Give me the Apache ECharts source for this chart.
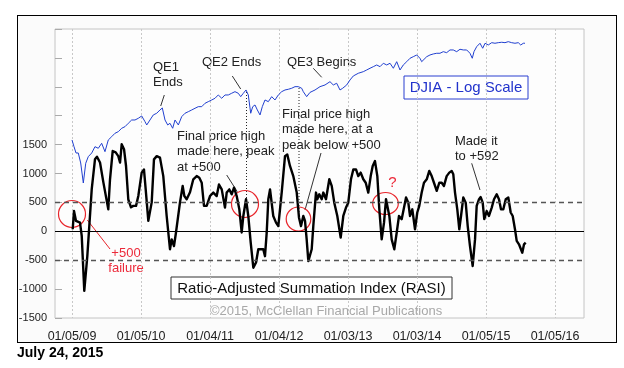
<!DOCTYPE html>
<html><head><meta charset="utf-8">
<script src="https://cdn.jsdelivr.net/npm/echarts@6/dist/echarts.min.js"></script>
<style>
html,body{margin:0;padding:0;background:#fff;}
#frame{position:absolute;left:17px;top:15px;width:598px;height:326px;border:1px solid #000;background:#fbfbfb;}
#chart{position:absolute;left:0;top:0;width:624px;height:368px;}
</style></head>
<body>
<div id="frame"></div>
<div id="chart"></div>
<script>
// ---- data ----
const yearTicks = [2009, 2010, 2011, 2012, 2013, 2014, 2015, 2016];
const xTickLabels = ['01/05/09','01/05/10','01/04/11','01/04/12','01/03/13','01/03/14','01/05/15','01/05/16'];
const rasiLabelMax = 1500;
const refLevels = [500, -500];
const zeroLevel = 0;

const rasiDates = [2009.010,2009.029,2009.058,2009.116,2009.141,2009.178,2009.222,2009.286,2009.333,2009.362,2009.406,2009.454,2009.526,2009.551,2009.590,2009.633,2009.671,2009.696,2009.720,2009.754,2009.783,2009.816,2009.855,2009.888,2009.928,2009.961,
2010.010,2010.043,2010.068,2010.106,2010.155,2010.188,2010.228,2010.275,2010.323,2010.372,2010.420,2010.445,2010.478,2010.507,2010.565,2010.604,2010.628,2010.662,2010.710,2010.758,2010.807,2010.845,2010.880,2010.913,2010.952,
2011.000,2011.048,2011.097,2011.130,2011.170,2011.217,2011.242,2011.280,2011.314,2011.348,2011.387,2011.425,2011.459,2011.483,2011.522,2011.555,2011.590,2011.628,2011.667,2011.700,2011.735,2011.772,2011.797,2011.822,2011.845,2011.870,2011.917,2011.957,2011.990,
2012.039,2012.087,2012.120,2012.159,2012.207,2012.257,2012.290,2012.319,2012.352,2012.377,2012.401,2012.425,2012.449,2012.474,2012.497,2012.536,2012.555,2012.584,2012.619,2012.642,2012.681,2012.729,2012.764,2012.801,2012.845,2012.894,2012.932,2012.971,
2013.004,2013.043,2013.077,2013.116,2013.149,2013.184,2013.222,2013.257,2013.294,2013.329,2013.358,2013.391,2013.425,2013.454,2013.488,2013.522,2013.551,2013.570,2013.599,2013.633,2013.671,2013.706,2013.739,2013.778,2013.812,2013.841,2013.874,2013.899,2013.932,2013.971,
2014.004,2014.033,2014.068,2014.101,2014.141,2014.178,2014.213,2014.246,2014.286,2014.323,2014.358,2014.391,2014.430,2014.468,2014.503,2014.526,2014.551,2014.584,2014.613,2014.638,2014.671,2014.706,2014.735,2014.768,2014.807,2014.841,2014.865,2014.899,2014.923,2014.952,2014.975,
2015.010,2015.043,2015.083,2015.116,2015.155,2015.188,2015.217,2015.251,2015.286,2015.323,2015.358,2015.387,2015.420,2015.445,2015.478,2015.503,2015.526,2015.551,2015.575];
const rasiValues = [35,350,180,150,-80,-1030,-430,730,1245,1290,1190,850,380,900,1390,1365,1300,1190,1505,1420,1130,550,415,440,440,610,
1015,1070,725,180,500,1245,1300,1275,955,265,-310,-140,-255,-20,500,785,610,555,675,900,955,925,840,440,440,
610,670,610,810,725,410,670,725,640,755,610,380,-20,265,555,265,-195,-630,-540,-310,-310,-310,-430,-20,555,725,265,150,90,
670,1300,1330,1130,955,670,235,90,265,180,-140,-515,-540,-310,90,670,555,640,555,670,555,900,785,495,265,-110,265,410,
495,900,1070,1070,955,1015,900,840,670,955,1130,1215,955,380,-140,150,555,555,265,-140,-310,-20,265,210,410,585,495,265,380,35,
325,440,670,840,900,1045,955,840,700,840,840,785,955,1015,1045,985,670,380,35,265,585,495,90,-255,-600,-140,440,555,592,495,210,
350,265,410,555,640,555,380,380,555,585,325,265,35,-165,-225,-195,-370,-225,-195];

const djiaDates = [2009.000,2009.029,2009.058,2009.091,2009.126,2009.164,2009.199,2009.236,2009.286,2009.333,2009.381,2009.430,2009.478,2009.526,2009.575,2009.623,2009.671,2009.720,2009.768,2009.816,2009.865,2009.913,2009.961,
2010.010,2010.058,2010.083,2010.130,2010.178,2010.228,2010.275,2010.309,2010.348,2010.387,2010.420,2010.459,2010.493,2010.541,2010.590,2010.638,2010.686,2010.735,2010.783,2010.830,2010.880,2010.928,2010.975,
2011.025,2011.072,2011.120,2011.170,2011.217,2011.265,2011.314,2011.362,2011.410,2011.445,2011.483,2011.522,2011.555,2011.590,2011.619,2011.652,2011.686,2011.725,2011.758,2011.797,2011.845,2011.894,2011.942,2011.990,
2012.039,2012.087,2012.135,2012.184,2012.232,2012.280,2012.329,2012.352,2012.401,2012.449,2012.522,2012.594,2012.667,2012.739,2012.787,2012.836,2012.884,2012.923,2012.981,
2013.029,2013.077,2013.149,2013.222,2013.271,2013.319,2013.367,2013.416,2013.464,2013.512,2013.561,2013.609,2013.657,2013.706,2013.754,2013.801,2013.851,2013.899,2013.946,2013.996,
2014.043,2014.068,2014.091,2014.141,2014.188,2014.236,2014.286,2014.333,2014.381,2014.430,2014.478,2014.526,2014.575,2014.623,2014.671,2014.720,2014.768,2014.801,2014.826,2014.865,2014.913,2014.952,2014.986,
2015.033,2015.083,2015.130,2015.178,2015.228,2015.275,2015.323,2015.372,2015.420,2015.468,2015.503,2015.541,2015.565];
const djiaValues = [9036,8608,8224,8224,7650,6617,7633,8008,8224,8608,8508,8823,8303,9036,9255,9485,9596,9835,9950,10198,10443,10443,10572,
10752,10316,10073,10443,10831,10964,11228,11393,10443,10073,10198,9835,10443,10073,10698,10964,11091,11228,11367,11500,11500,11786,11924,
12071,12220,12516,12220,12516,12516,12672,12820,12672,12364,12672,12977,12516,10964,11500,11643,11228,10831,11500,12071,11924,12364,12071,12516,
12820,12977,13044,13140,13292,13292,13140,12820,12364,12750,12977,13292,13457,13782,13457,13624,12977,13140,13457,
13952,14363,14646,14817,15000,15187,15364,15553,15364,15745,15553,15745,15187,15929,15000,15553,15929,16325,16516,16720,
16325,15929,16126,16516,16720,16843,16928,16928,17127,17003,17339,17339,17127,17426,17339,17339,16928,16325,17127,17758,18200,17553,18200,
17976,18280,18200,18280,18334,18280,18412,18280,18200,18280,17976,18200,18200];

const pair = (xs, ys) => xs.map((x, i) => [x, ys[i]]);

const chart = echarts.init(document.getElementById('chart'), null, {renderer: 'canvas'});
const FONT = '"Liberation Sans", Arial, sans-serif';
const txt = (x, y, s, opt) => Object.assign({type: 'text', x: x, y: y, style: Object.assign({text: s, font: '13px ' + FONT, fill: '#222', textVerticalAlign: 'middle'}, opt || {})});
const seg = (x1, y1, x2, y2, col, dash) => ({type: 'line', shape: {x1: x1, y1: y1, x2: x2, y2: y2}, style: {stroke: col || '#333', lineWidth: 1, lineDash: dash || null}});
const circ = (cx, cy, rx, ry) => ({type: 'ellipse', shape: {cx: cx, cy: cy, rx: rx, ry: ry}, style: {stroke: '#e8252b', fill: null, lineWidth: 1.2}});

chart.setOption({
  animation: false,
  backgroundColor: 'transparent',
  grid: {left: 55, top: 29, width: 529, height: 289, show: true, borderColor: '#c4c4c4', borderWidth: 1, backgroundColor: '#fdfdfd'},
  xAxis: {
    type: 'value', min: 2008.7536, max: 2016.4203,
    axisLine: {show: false},
    axisTick: {show: false, customValues: yearTicks},
    axisLabel: {customValues: yearTicks, formatter: v => xTickLabels[yearTicks.indexOf(Math.round(v))] || '', color: '#222', fontFamily: FONT, fontSize: 12.5, margin: 12},
    splitLine: {show: true, lineStyle: {color: '#c8c8c8', type: [2, 2], width: 1}}
  },
  yAxis: [{
    type: 'value', min: -1500, max: 3500, interval: 500,
    axisLine: {show: false},
    axisTick: {show: true, inside: true, length: 7, lineStyle: {color: '#aaa'}},
    axisLabel: {formatter: v => (v <= rasiLabelMax ? String(v) : ''), color: '#222', fontFamily: FONT, fontSize: 11, margin: 8},
    splitLine: {show: false}
  }, {
    type: 'log', min: 2490, max: 20180, show: false, splitLine: {show: false}
  }],
  series: [{
    type: 'line', name: 'DJIA', yAxisIndex: 1, data: pair(djiaDates, djiaValues),
    showSymbol: false, lineStyle: {color: '#2140d0', width: 1}, z: 3
  }, {
    type: 'line', name: 'RASI', yAxisIndex: 0, data: pair(rasiDates, rasiValues),
    showSymbol: false, lineStyle: {color: '#000', width: 2.4, join: 'round'}, z: 4,
    markLine: {
      silent: true, symbol: 'none', label: {show: false},
      data: [
        {yAxis: refLevels[0], lineStyle: {color: '#555', type: [5, 4], width: 1.4}},
        {yAxis: refLevels[1], lineStyle: {color: '#555', type: [5, 4], width: 1.4}},
        {yAxis: zeroLevel, lineStyle: {color: '#000', type: 'solid', width: 1}}
      ]
    }
  }],
  graphic: [
    {type: 'rect', shape: {x: 404, y: 76, width: 124, height: 23}, style: {fill: '#fff', stroke: '#2b3fd0', lineWidth: 1}},
    txt(466, 88, 'DJIA - Log Scale', {font: '15px ' + FONT, fill: '#2233cc', textAlign: 'center'}),
    {type: 'rect', shape: {x: 171, y: 277, width: 281, height: 22}, style: {fill: '#fff', stroke: '#333', lineWidth: 1}},
    txt(311.5, 288.5, 'Ratio-Adjusted Summation Index (RASI)', {font: '15px ' + FONT, fill: '#111', textAlign: 'center'}),
    txt(210, 311, '\u00a92015, McClellan Financial Publications', {font: '13px ' + FONT, fill: '#a8a8a8'}),
    txt(17, 353, 'July 24, 2015', {font: 'bold 14px ' + FONT, fill: '#000'}),
    txt(153, 67.5, 'QE1', {}), txt(153, 82, 'Ends', {}),
    seg(164.3, 95, 160.7, 106),
    txt(202, 62, 'QE2 Ends', {}),
    seg(232.3, 76, 240.7, 89),
    txt(287, 62, 'QE3 Begins', {}),
    seg(313.3, 68.3, 321.7, 77.3),
    txt(177, 136, 'Final price high', {}), txt(177, 151.5, 'made here, peak', {}), txt(177, 167, 'at +500', {}),
    seg(226.7, 175, 237.3, 191.7),
    txt(282, 114, 'Final price high', {}), txt(282, 129.5, 'made here, at a', {}), txt(282, 145, 'peak below +500', {}),
    seg(321, 153, 305, 210),
    txt(455, 141.5, 'Made it', {}), txt(455, 156.5, 'to +592', {}),
    seg(471.7, 163.3, 480, 190),
    seg(246.5, 92, 246.5, 203, '#222', [1, 2]),
    seg(299, 88, 299, 213, '#222', [1, 2]),
    circ(72, 214, 13.5, 13.5), circ(245, 204, 13.5, 13.5), circ(298.5, 219, 12.3, 12), circ(385.5, 203.5, 12.8, 11),
    seg(87.3, 220, 110, 249, '#e8252b'),
    txt(126, 253.5, '+500', {fill: '#ec2a3a', textAlign: 'center'}),
    txt(126, 268.5, 'failure', {fill: '#ec2a3a', textAlign: 'center'}),
    txt(392.5, 183, '?', {fill: '#ec2a3a', textAlign: 'center', font: '15px ' + FONT})
  ]
});
</script>
</body></html>
